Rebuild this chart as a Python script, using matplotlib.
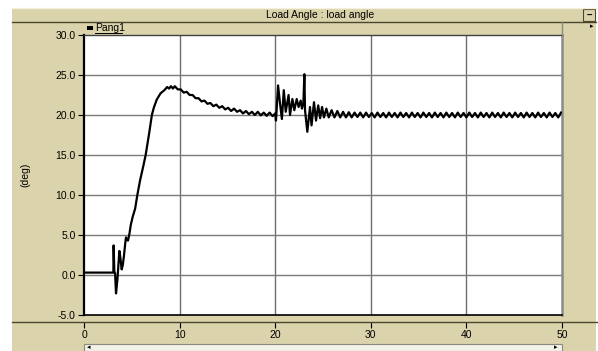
import matplotlib
matplotlib.use("Agg")
import matplotlib.pyplot as plt
from matplotlib.patches import Rectangle
from matplotlib.lines import Line2D

plt.rcParams['font.family'] = ['Liberation Sans', 'DejaVu Sans']

# ---------------- data ----------------
title = "Load Angle : load angle"
series_name = "Pang1"
y_label = "(deg)"
x_ticks = [0, 10, 20, 30, 40, 50]
y_ticks = [-5, 0, 5, 10, 15, 20, 25, 30]

# start-up and ramp
t_ramp = [0.0, 3.07, 3.1, 3.17, 3.25, 3.35, 3.5, 3.7, 3.8, 3.94, 4.05, 4.18, 4.3,
          4.39, 4.5, 4.6, 4.76, 4.9, 5.1, 5.35, 5.58, 5.86, 6.2, 6.45, 6.8, 7.1,
          7.3, 7.6, 8.0, 8.4, 8.7, 8.9, 9.1, 9.3]
v_ramp = [0.3, 0.3, 3.7, 0.5, 0.2, -2.3, -0.5, 3.0, 2.2, 0.7, 1.2, 2.4, 3.8,
          4.7, 4.4, 4.3, 5.2, 6.3, 7.3, 8.3, 10.0, 11.8, 13.6, 15.0, 17.6, 20.0,
          20.9, 21.9, 22.7, 23.1, 23.5, 23.3, 23.6, 23.3]

# slow decay with small ripple
t_decay = [9.5, 9.81, 10.12, 10.43, 10.74, 11.05, 11.36, 11.67, 11.98, 12.29,
           12.6, 12.91, 13.22, 13.53, 13.84, 14.15, 14.46, 14.77, 15.08, 15.39,
           15.7, 16.01, 16.32, 16.63, 16.94, 17.25, 17.56, 17.87, 18.18, 18.49,
           18.8, 19.11, 19.42, 19.73]
v_decay = [23.6, 23.2, 23.2, 22.8, 22.9, 22.5, 22.5, 22.1, 22.1, 21.7,
           21.8, 21.4, 21.5, 21.1, 21.3, 20.9, 21.1, 20.7, 20.9, 20.5,
           20.8, 20.4, 20.6, 20.2, 20.5, 20.1, 20.4, 20.0, 20.4, 19.95,
           20.3, 19.9, 20.3, 19.85]

# disturbance at t = 20 s
t_dist = [20.0, 20.08, 20.3, 20.5, 20.7, 20.9, 21.1, 21.4, 21.55, 21.8, 22.0,
          22.25, 22.45, 22.67, 22.8, 22.95, 23.05, 23.12, 23.36, 23.64, 23.8,
          24.06, 24.27, 24.5, 24.7, 24.9, 25.1, 25.35, 25.6, 25.9, 26.2, 26.5,
          26.8, 27.1, 27.4]
v_dist = [20.2, 19.3, 23.7, 21.5, 19.5, 23.1, 20.4, 22.5, 20.0, 22.0, 20.6,
          22.0, 21.0, 21.8, 20.8, 21.5, 25.1, 20.6, 17.9, 21.0, 18.7,
          21.6, 19.3, 21.2, 19.6, 21.0, 19.7, 20.8, 19.7, 20.6, 19.7, 20.5,
          19.7, 20.4, 19.7]

# steady ripple to the end
t_steady = [27.7, 28.0, 28.3, 28.6, 28.9, 29.2, 29.5, 29.8, 30.1, 30.4, 30.7,
            31.0, 31.3, 31.6, 31.9, 32.2, 32.5, 32.8, 33.1, 33.4, 33.7, 34.0,
            34.3, 34.6, 34.9, 35.2, 35.5, 35.8, 36.1, 36.4, 36.7, 37.0, 37.3,
            37.6, 37.9, 38.2, 38.5, 38.8, 39.1, 39.4, 39.7, 40.0, 40.3, 40.6,
            40.9, 41.2, 41.5, 41.8, 42.1, 42.4, 42.7, 43.0, 43.3, 43.6, 43.9,
            44.2, 44.5, 44.8, 45.1, 45.4, 45.7, 46.0, 46.3, 46.6, 46.9, 47.2,
            47.5, 47.8, 48.1, 48.4, 48.7, 49.0, 49.3, 49.6, 49.9]
v_steady = [20.35, 19.7, 20.3, 19.75, 20.3, 19.7, 20.3, 19.75, 20.25, 19.7, 20.3,
            19.75, 20.25, 19.7, 20.3, 19.75, 20.25, 19.7, 20.3, 19.75, 20.25, 19.7,
            20.3, 19.75, 20.25, 19.7, 20.3, 19.75, 20.25, 19.7, 20.3, 19.75, 20.25,
            19.7, 20.3, 19.75, 20.25, 19.7, 20.3, 19.75, 20.25, 19.7, 20.3, 19.75,
            20.25, 19.7, 20.3, 19.75, 20.25, 19.7, 20.3, 19.75, 20.25, 19.7, 20.3,
            19.75, 20.25, 19.7, 20.3, 19.75, 20.25, 19.7, 20.3, 19.75, 20.25, 19.7,
            20.3, 19.75, 20.25, 19.7, 20.3, 19.75, 20.25, 19.7, 20.3]

t_all = t_ramp + t_decay + t_dist + t_steady
v_all = v_ramp + v_decay + v_dist + v_steady

# ---------------- layout helpers ----------------
W, H = 598, 351
BEIGE = '#DBD3AB'
DARK = '#4a4630'
FS = 7.5


def fx(px):
    return px / W


def fy(py):
    return 1 - py / H


fig = plt.figure(figsize=(W / 100, H / 100), dpi=100)
fig.patch.set_facecolor('white')

# window panel
fig.add_artist(Rectangle((fx(12), 0), fx(596) - fx(12), fy(8), transform=fig.transFigure,
                         facecolor=BEIGE, edgecolor='none', zorder=0))
# title bar lines
fig.add_artist(Line2D([fx(12), fx(596)], [fy(8), fy(8)], transform=fig.transFigure,
                      color='#f4f0dc', lw=1))
fig.add_artist(Line2D([fx(12), fx(596)], [fy(21.5), fy(21.5)], transform=fig.transFigure,
                      color=DARK, lw=1))
fig.text(fx(320), fy(14.5), title, ha='center', va='center', fontsize=FS)
# minimise button
fig.add_artist(Rectangle((fx(583), fy(21)), fx(12), fy(9) - fy(21), transform=fig.transFigure,
                         facecolor=BEIGE, edgecolor=DARK, lw=0.8))
fig.text(fx(589), fy(15.5), '\u2013', ha='center', va='center', fontsize=7, weight='bold')
fig.text(fx(592), fy(27), '\u25B8', ha='center', va='center', fontsize=5)

# legend strip
fig.add_artist(Line2D([fx(562), fx(562)], [fy(22), fy(35)], transform=fig.transFigure,
                      color='#8a8a80', lw=1))
fig.add_artist(Rectangle((fx(87), fy(30)), fx(6), fy(26) - fy(30), transform=fig.transFigure,
                         facecolor='black', edgecolor='none'))
fig.text(fx(95), fy(28.3), series_name, ha='left', va='center', fontsize=FS)
fig.add_artist(Line2D([fx(95), fx(122)], [fy(33), fy(33)], transform=fig.transFigure,
                      color='black', lw=0.7))

# main plot
ax = fig.add_axes([fx(84), fy(315), fx(562) - fx(84), fy(35) - fy(315)])
ax.set_facecolor('white')
ax.set_xlim(0, 50)
ax.set_ylim(-5, 30)
for xv in x_ticks[1:-1]:
    ax.axvline(xv, color='#6e6e6e', lw=1, zorder=1)
for yv in y_ticks[1:-1]:
    ax.axhline(yv, color='#7a7a7a', lw=1, zorder=1)
ax.plot(t_all, v_all, color='black', lw=1.6, zorder=3)

ax.set_yticks(y_ticks)
ax.set_yticklabels([f"{v:.1f}" for v in y_ticks], fontsize=FS)
ax.set_xticks(x_ticks)
ax.tick_params(axis='x', length=0, labelbottom=False)
ax.tick_params(axis='y', direction='out', length=4, width=0.8, pad=2)
ax.spines['left'].set_color('black')
ax.spines['left'].set_linewidth(1.6)
ax.spines['bottom'].set_color('black')
ax.spines['bottom'].set_linewidth(1.2)
ax.spines['top'].set_color('#404040')
ax.spines['top'].set_linewidth(1.0)
ax.spines['right'].set_color('#8a8a8a')
ax.spines['right'].set_linewidth(1.8)
ax.set_ylabel(y_label, fontsize=FS)
ax.yaxis.set_label_coords((30 - 84) / (562 - 84), 0.5)

# separator line and x scale
fig.add_artist(Line2D([fx(12), fx(598)], [fy(322), fy(322)], transform=fig.transFigure,
                      color=DARK, lw=1))
ax2 = fig.add_axes([fx(84), fy(322), fx(562) - fx(84), 0.0001])
ax2.set_facecolor('none')
ax2.set_xlim(0, 50)
ax2.set_xticks(x_ticks)
ax2.set_xticklabels([str(v) for v in x_ticks], fontsize=FS)
ax2.set_yticks([])
ax2.tick_params(axis='x', direction='out', length=4, width=0.8, pad=2)
for s in ax2.spines.values():
    s.set_visible(False)

# scrollbar
fig.add_artist(Rectangle((fx(84), 0), fx(562) - fx(84), fy(344), transform=fig.transFigure,
                         facecolor='#f4f2e8', edgecolor='#8a8a80', lw=0.8))
fig.text(fx(89), fy(348), '\u25C2', ha='center', va='center', fontsize=5)
fig.text(fx(556), fy(348), '\u25B8', ha='center', va='center', fontsize=5)

fig.savefig('out.png', dpi=100, facecolor=fig.get_facecolor())
